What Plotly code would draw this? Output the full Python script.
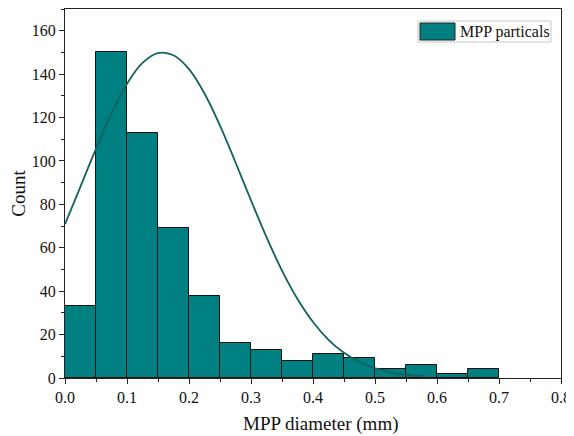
import plotly.graph_objects as go

# Histogram data (bin width 0.05 mm)
bin_starts = [0.0, 0.05, 0.10, 0.15, 0.20, 0.25, 0.30, 0.35, 0.40, 0.45, 0.50, 0.55, 0.60, 0.65]
counts = [33, 150, 113, 69, 38, 16, 13, 8, 11, 9, 4, 6, 2, 4]
bin_width = 0.05

# Normal fit curve values
curve_x = [0.0, 0.025, 0.05, 0.075, 0.10, 0.125, 0.15, 0.175, 0.20, 0.225, 0.25, 0.275,
           0.30, 0.325, 0.35, 0.375, 0.40, 0.425, 0.45, 0.475, 0.50, 0.525, 0.55, 0.577]
curve_y = [70.9, 88.2, 105.7, 122.0, 135.6, 145.2, 149.7, 148.7, 142.3, 131.1, 116.3, 99.4,
           81.8, 64.9, 49.5, 36.4, 25.8, 17.6, 11.6, 7.3, 4.5, 2.6, 1.5, 0.8]

legend_label = "MPP particals"
x_title = "MPP diameter (mm)"
y_title = "Count"
bar_x = [s + bin_width / 2 for s in bin_starts]

FONT = "Liberation Serif"
BAR_COLOR = "#008080"

fig = go.Figure()
fig.add_trace(go.Bar(
    x=bar_x, y=counts, width=bin_width,
    marker=dict(color=BAR_COLOR, line=dict(color="#111111", width=1)),
    name=legend_label, showlegend=False,
))
fig.add_trace(go.Scatter(
    x=curve_x, y=curve_y, mode="lines", line_shape="spline",
    line=dict(color="#13625f", width=1.8), showlegend=False, hoverinfo="skip",
))

# page has an 8px body margin; size the figure so the plot area lands where the reference has it
OFF = 8
W, H = 574 - OFF, 436 - OFF
L, R, T, B = 65 - OFF, 13, 9 - OFF, 58
pw, ph = W - L - R, H - T - B
def px(x): return (x - OFF - L) / pw
def py(y): return (H - B - (y - OFF)) / ph

# custom legend box (paper coordinates)
fig.add_shape(type="rect", xref="paper", yref="paper",
              x0=px(418), x1=px(551), y0=py(42), y1=py(21),
              line=dict(color="#c8c8c8", width=1), fillcolor="white", layer="above")
fig.add_shape(type="rect", xref="paper", yref="paper",
              x0=px(420), x1=px(455), y0=py(40), y1=py(23),
              line=dict(color="#222222", width=1), fillcolor=BAR_COLOR, layer="above")
fig.add_annotation(xref="paper", yref="paper", x=px(458), y=py(31.5),
                   xanchor="left", yanchor="middle", showarrow=False,
                   text=legend_label, font=dict(family=FONT, size=16, color="#111111"))
# x-axis title (slightly right of centre, as in the reference)
fig.add_annotation(xref="paper", yref="paper", x=px(321), y=py(424),
                   xanchor="center", yanchor="middle", showarrow=False,
                   text=x_title, font=dict(family=FONT, size=19, color="#111111"))

fig.update_layout(
    width=W, height=H,
    margin=dict(l=L, r=R, t=T, b=B),
    paper_bgcolor="white", plot_bgcolor="white",
    font=dict(family=FONT, size=16, color="#111111"),
    bargap=0,
    showlegend=False,
)
fig.update_xaxes(
    range=[0, 0.8], dtick=0.1, tick0=0, tickformat=".1f",
    showgrid=False, zeroline=False, automargin=False,
    showline=True, linecolor="#222222", linewidth=1.2, mirror=True,
    ticks="outside", ticklen=5, tickcolor="#222222",
    minor=dict(dtick=0.05, ticks="outside", ticklen=3, tickcolor="#222222", showgrid=False),
    tickfont=dict(family=FONT, size=16),
)
fig.update_yaxes(
    range=[0, 170], dtick=20, tick0=0,
    showgrid=False, zeroline=False, automargin=False,
    showline=True, linecolor="#222222", linewidth=1.2, mirror=True,
    ticks="outside", ticklen=5, tickcolor="#222222",
    minor=dict(dtick=10, ticks="outside", ticklen=3, tickcolor="#222222", showgrid=False),
    title=dict(text=y_title, font=dict(family=FONT, size=19), standoff=4),
    tickfont=dict(family=FONT, size=16),
)

fig.write_html("out.html")
